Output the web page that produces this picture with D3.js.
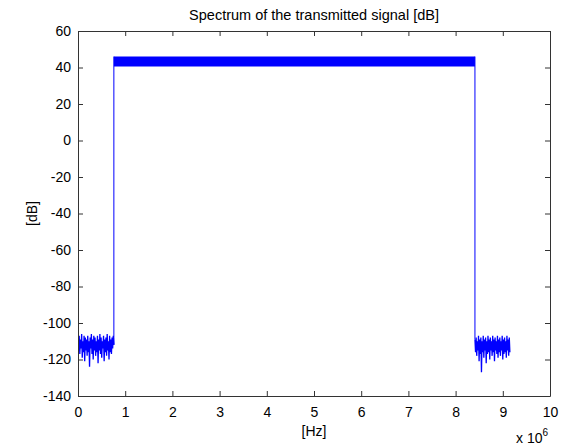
<!DOCTYPE html>
<html>
<head>
<meta charset="utf-8">
<script src="https://cdn.jsdelivr.net/npm/d3@7"></script>
<style>
  body { margin: 0; background: #fff; }
  text { font-family: "Liberation Sans", Arial, sans-serif; fill: #000; }
</style>
</head>
<body>
<svg id="chart" width="561" height="446"></svg>
<script>
// frequency in units of 1e6 Hz, level in dB
const xTicks = [0, 1, 2, 3, 4, 5, 6, 7, 8, 9, 10];
const yTicks = [60, 40, 20, 0, -20, -40, -60, -80, -100, -120, -140];

// noise floor below the band (0 .. 0.76)
const noiseLeftRange = [0, 0.76];
const noiseLeft = [-108,-115,-107,-117,-109,-114,-106,-119,-110,-116,-107,-121,-108,-115,-109,-118,-107,-116,-110,-124,
  -108,-114,-106,-117,-109,-120,-107,-115,-108,-118,-110,-116,-107,-122,-109,-115,-106,-117,-108,-119,
  -110,-114,-107,-121,-109,-116,-108,-118,-106,-115,-110,-120,-107,-116,-109,-117,-108,-114,-107,-112];

// transmitted band (dense, drawn as its envelope)
const bandFreq = [0.76, 8.41];
const bandHigh = [46, 46];
const bandLow = [40.5, 40.5];

// noise floor above the band (8.41 .. 9.15)
const noiseRightRange = [8.41, 9.15];
const noiseRight = [-109,-116,-108,-118,-110,-115,-107,-121,-109,-117,-108,-127,-110,-116,-107,-119,-109,-115,-108,-122,
  -110,-117,-107,-116,-109,-120,-108,-115,-110,-118,-107,-116,-109,-121,-108,-115,-110,-117,-107,-119,
  -109,-116,-108,-118,-110,-115,-107,-120,-109,-117,-108,-116,-110,-119,-107,-115,-109,-118,-108,-116];

const margin = {top: 31, right: 11, bottom: 50, left: 78};
const W = 561, H = 446;
const width = W - margin.left - margin.right;
const height = H - margin.top - margin.bottom;

const svg = d3.select("#chart");
const g = svg.append("g").attr("transform", `translate(${margin.left},${margin.top})`);

const x = d3.scaleLinear().domain([0, 10]).range([0, width]);
const y = d3.scaleLinear().domain([-140, 60]).range([height, 0]);

const blue = "#0000ff";

// spread the samples of a noise segment over its frequency range
function samples(vals, range) {
  const step = (range[1] - range[0]) / (vals.length - 1);
  return vals.map((v, i) => ({f: range[0] + i * step, v: v}));
}
const line = d3.line().x(d => x(d.f)).y(d => y(d.v));

g.append("clipPath").attr("id", "clip")
  .append("rect").attr("width", width).attr("height", height);

const plot = g.append("g").attr("clip-path", "url(#clip)");

// band
plot.append("path")
  .datum(bandFreq.map((f, i) => ({f: f, hi: bandHigh[i], lo: bandLow[i]})))
  .attr("fill", blue)
  .attr("d", d3.area().x(d => x(d.f)).y0(d => y(d.lo)).y1(d => y(d.hi)));

// left noise, rising edge, falling edge, right noise
const left = samples(noiseLeft, noiseLeftRange);
const right = samples(noiseRight, noiseRightRange);
plot.append("path")
  .datum(left)
  .attr("fill", "none").attr("stroke", blue).attr("stroke-width", 1.3)
  .attr("d", line);
plot.append("path")
  .datum(right)
  .attr("fill", "none").attr("stroke", blue).attr("stroke-width", 1.3)
  .attr("d", line);
plot.append("path")
  .datum([left[left.length - 1], {f: bandFreq[0], v: bandHigh[0]}])
  .attr("fill", "none").attr("stroke", blue).attr("stroke-width", 1)
  .attr("d", line);
plot.append("path")
  .datum([{f: bandFreq[1], v: bandHigh[1]}, right[0]])
  .attr("fill", "none").attr("stroke", blue).attr("stroke-width", 1)
  .attr("d", line);

// axes, matlab style: ticks inside, box all round
const axisColor = "#333";
const fmt = d => String(d);
function styleAxis(sel) {
  sel.selectAll("path, line").attr("stroke", axisColor);
  sel.selectAll("text").style("font-size", "14px").attr("fill", "#000");
}
g.append("g")
  .attr("transform", `translate(0,${height})`)
  .call(d3.axisBottom(x).tickValues(xTicks).tickFormat(fmt).tickSizeInner(-5).tickSizeOuter(0).tickPadding(11))
  .call(styleAxis);
g.append("g")
  .call(d3.axisTop(x).tickValues(xTicks).tickSizeInner(-5).tickSizeOuter(0).tickFormat(""))
  .call(styleAxis);
g.append("g")
  .call(d3.axisLeft(y).tickValues(yTicks).tickFormat(fmt).tickSizeInner(-5).tickSizeOuter(0).tickPadding(7))
  .call(styleAxis);
g.append("g")
  .attr("transform", `translate(${width},0)`)
  .call(d3.axisRight(y).tickValues(yTicks).tickSizeInner(-5).tickSizeOuter(0).tickFormat(""))
  .call(styleAxis);

// labels
svg.append("text")
  .attr("x", margin.left + width / 2).attr("y", 20)
  .attr("text-anchor", "middle").style("font-size", "14.5px")
  .text("Spectrum of the transmitted signal [dB]");
svg.append("text")
  .attr("x", margin.left + width / 2).attr("y", 436)
  .attr("text-anchor", "middle").style("font-size", "14px")
  .text("[Hz]");
svg.append("text")
  .attr("transform", `translate(37,${margin.top + height / 2}) rotate(-90)`)
  .attr("text-anchor", "middle").style("font-size", "14px")
  .text("[dB]");
const exp = svg.append("text").attr("x", 516).attr("y", 443).style("font-size", "14px");
exp.append("tspan").text("x 10");
exp.append("tspan").attr("dy", -7).style("font-size", "10px").text("6");
</script>
</body>
</html>
